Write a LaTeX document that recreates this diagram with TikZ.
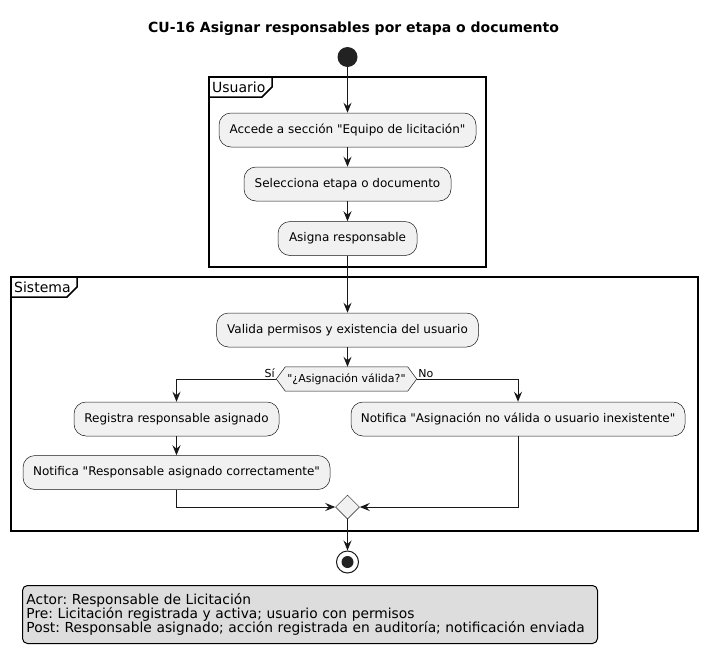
\documentclass[tikz,border=0pt]{standalone}
\usepackage{fontspec}
\setmainfont{DejaVu Sans}[Ligatures=TeXOff]
\usetikzlibrary{arrows.meta, positioning, shapes.geometric, backgrounds}
\definecolor{actfill}{HTML}{F1F1F1}
\definecolor{linec}{HTML}{181818}
\definecolor{notefill}{HTML}{DDDDDD}
\definecolor{startfill}{HTML}{222222}
\frenchspacing
\hyphenpenalty=10000

\begin{document}
\begin{tikzpicture}[x=1pt, y=-1pt,
    action/.style={draw=linec, fill=actfill, line width=0.5pt, rounded corners=12pt, minimum height=34pt, inner xsep=8pt, font=\fontsize{12}{14}\selectfont},
    decision_txt/.style={minimum width=122pt, minimum height=24pt, inner sep=0pt, font=\fontsize{11}{13}\selectfont},
    merge_node/.style={diamond, draw=linec, fill=actfill, line width=0.5pt, minimum width=24pt, minimum height=24pt, inner sep=0pt},
    flow/.style={-{Stealth[length=10pt, width=8pt, inset=3.5pt]}, draw=linec, line width=1pt},
    partition/.style={draw=black, line width=1.5pt},
    part_label/.style={anchor=west, inner sep=0pt, font=\fontsize{14}{16}\selectfont},
    branch_label/.style={inner sep=1.5pt, font=\fontsize{11}{13}\selectfont}
]
    \useasboundingbox (0,0) rectangle (707,667);

    % Title
    \node[font=\fontsize{14}{16}\selectfont\bfseries] (title) at (353.5,29) {CU-16 Asignar responsables por etapa o documento};

    % Partitions with their tabs
    \draw[partition] (209,77) rectangle (486,267);
    \draw[partition] (209,97) -- (262,97) -- (272,87) -- (272,77);
    \node[part_label] (usuario) at (212,87) {Usuario};

    \draw[partition] (11,277) rectangle (698,531);
    \draw[partition] (11,297) -- (67,297) -- (77,287) -- (77,277);
    \node[part_label] (sistema) at (14,287) {Sistema};

    % Start node
    \node[circle, fill=startfill, minimum size=20pt, inner sep=0pt] (start) at (347.5,57) {};

    % Usuario actions
    \node[action, minimum width=257pt] (accede) at (347.5,130) {Accede a sección "Equipo de licitación"};
    \node[action, minimum width=207pt] (selecciona) at (347.5,184) {Selecciona etapa o documento};
    \node[action, minimum width=139pt] (asigna) at (347.5,238.5) {Asigna responsable};

    % Sistema actions
    \node[action, minimum width=262pt] (valida) at (347.5,330) {Valida permisos y existencia del usuario};

    % Decision hexagon
    \node[decision_txt] (check) at (346.5,379) {"¿Asignación válida?"};
    \coordinate (check_w) at ([xshift=-9pt]check.west);
    \coordinate (check_e) at ([xshift=9pt]check.east);
    \begin{scope}[on background layer]
        \draw[draw=linec, fill=actfill, line width=0.5pt] (check_w) -- (check.north west) -- (check.north east)
            -- (check_e) -- (check.south east) -- (check.south west) -- cycle;
    \end{scope}

    \node[action, minimum width=205pt] (registra) at (176.5,419) {Registra responsable asignado};
    \node[action, minimum width=307pt] (notif_ok) at (176.5,472.5) {Notifica "Responsable asignado correctamente"};
    \node[action, minimum width=334pt] (notif_no) at (518,419) {Notifica "Asignación no válida o usuario inexistente"};

    % Merge point
    \node[merge_node] (merge) at (347.5,507) {};

    % End node
    \node[circle, draw=linec, line width=1pt, fill=white, minimum size=22pt, inner sep=0pt] (stop) at (347.5,562) {};
    \fill[startfill] (stop.center) circle (6pt);

    % Flow arrows
    \draw[flow] (start) -- (accede);
    \draw[flow] (accede) -- (selecciona);
    \draw[flow] (selecciona) -- (asigna);
    \draw[flow] (asigna) -- (valida);
    \draw[flow] (valida.south) -- (check.north -| valida.south);

    \draw[flow] (check_w) -| (registra.north);
    \node[branch_label, anchor=south east] (si_lbl) at (check_w) {Sí};
    \draw[flow] (check_e) -| (notif_no.north);
    \node[branch_label, anchor=south west] (no_lbl) at (check_e) {No};

    \draw[flow] (registra) -- (notif_ok);
    \draw[flow] (notif_ok.south) |- (merge.west);
    \draw[flow] (notif_no.south) |- (merge.east);
    \draw[flow] (merge) -- (stop);

    % Note with actor and conditions
    \node[anchor=north west, draw=black, fill=notefill, line width=1pt, rounded corners=5pt,
        text width=567pt, inner xsep=4pt, minimum height=58pt, align=left,
        font=\fontsize{13.8}{14.2}\selectfont] (note) at (22,585)
        {Actor: Responsable de Licitación\\
         Pre: Licitación registrada y activa; usuario con permisos\\
         Post: Responsable asignado; acción registrada en auditoría; notificación enviada};

\end{tikzpicture}
\end{document}
